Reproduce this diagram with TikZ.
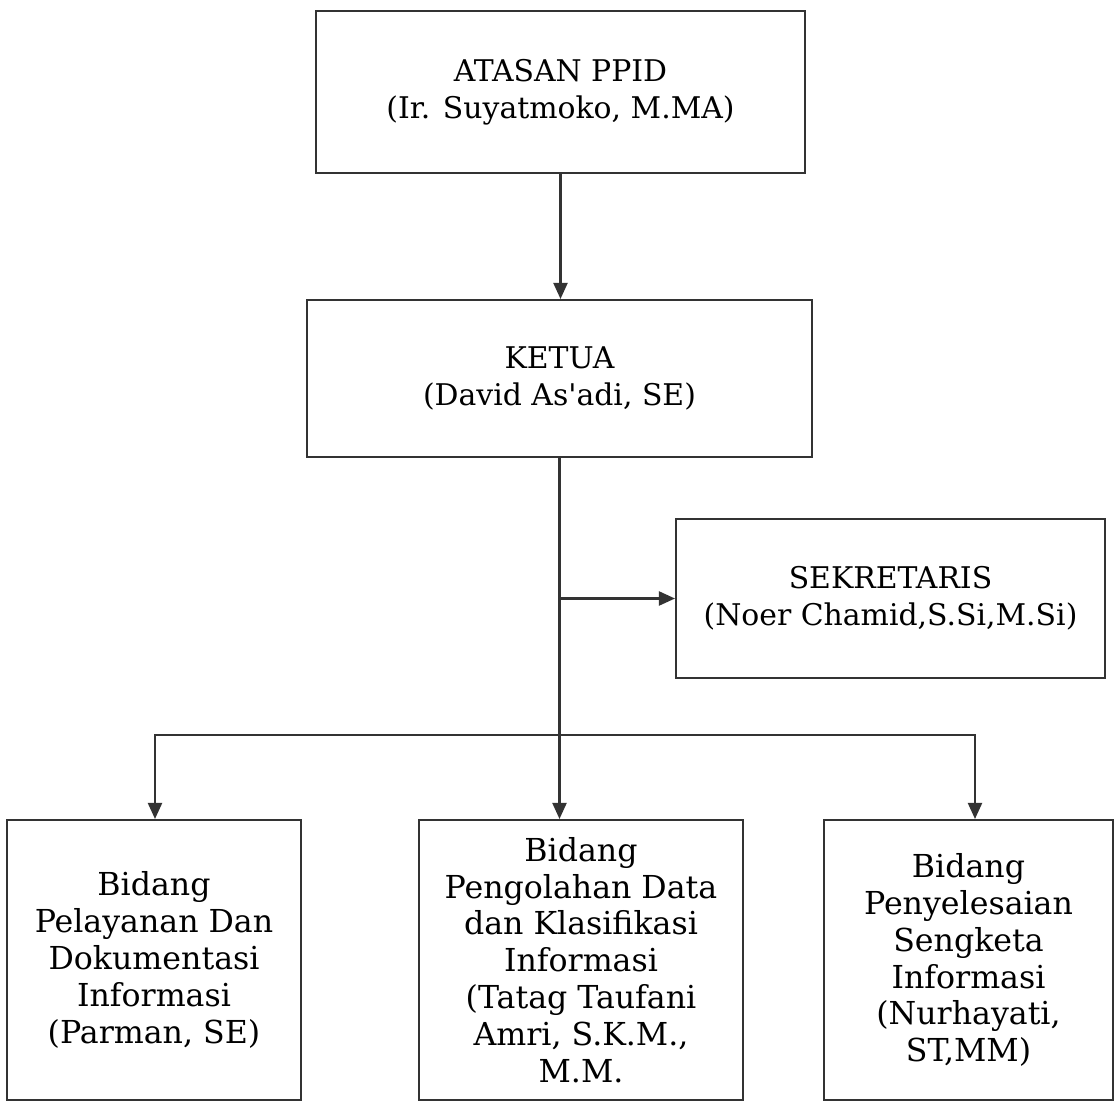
\documentclass[tikz,border=0pt]{standalone}
\usepackage{fontspec}
\setmainfont{DejaVu Serif}
\usetikzlibrary{arrows.meta}
\begin{document}
\begin{tikzpicture}[x=0.02cm,y=-0.02cm,
        box/.style={draw=black!80,line width=1.2pt,rectangle,align=center,inner sep=0pt,font=\fontsize{17}{21}\selectfont},
        bidang/.style={box,minimum height=5.6cm,font=\fontsize{18}{21}\selectfont},
        link/.style={draw=black!80,line width=1.2pt},
        arr/.style={link,-{Triangle[length=3.2mm,width=2.8mm]}}]
    \useasboundingbox (0,0) rectangle (1117,1102);

    %draw upper boxes
    \node[box,minimum width=9.78cm,minimum height=3.24cm] (atasan) at (560.5,92) {ATASAN PPID\\(Ir. Suyatmoko, M.MA)};
    \node[box,minimum width=10.1cm,minimum height=3.14cm] (ketua) at (559.5,378.5) {KETUA\\(David As\textquotesingle adi, SE)};
    \node[box,minimum width=8.58cm,minimum height=3.18cm] (sekretaris) at (890.5,598.5) {SEKRETARIS\\(Noer Chamid,S.Si,M.Si)};

    %draw bidang boxes
    \node[bidang,minimum width=5.88cm] (pelayanan) at (154,960) {Bidang\\Pelayanan Dan\\Dokumentasi\\Informasi\\(Parman, SE)};
    \node[bidang,minimum width=6.48cm] (pengolahan) at (581,960) {Bidang\\Pengolahan Data\\dan Klasifikasi\\Informasi\\(Tatag Taufani\\Amri, S.K.M.,\\M.M.};
    \node[bidang,minimum width=5.78cm] (sengketa) at (968.5,960) {Bidang\\Penyelesaian\\Sengketa\\Informasi\\(Nurhayati,\\ST,MM)};

    \coordinate (hline) at (0,735);
    \coordinate (split) at (ketua.south |- hline);
    \coordinate (lft) at (155,735);
    \coordinate (rgt) at (975,735);

    %draw connectors
    \draw[arr] (atasan.south) -- (atasan.south |- ketua.north);
    \draw[arr] (ketua.south) -- (ketua.south |- pengolahan.north);
    \draw[arr] (ketua.south |- sekretaris.west) -- (sekretaris.west);
    \draw[arr] (split) -| (lft |- pelayanan.north);
    \draw[arr] (split) -| (rgt |- sengketa.north);

\end{tikzpicture}
\end{document}
